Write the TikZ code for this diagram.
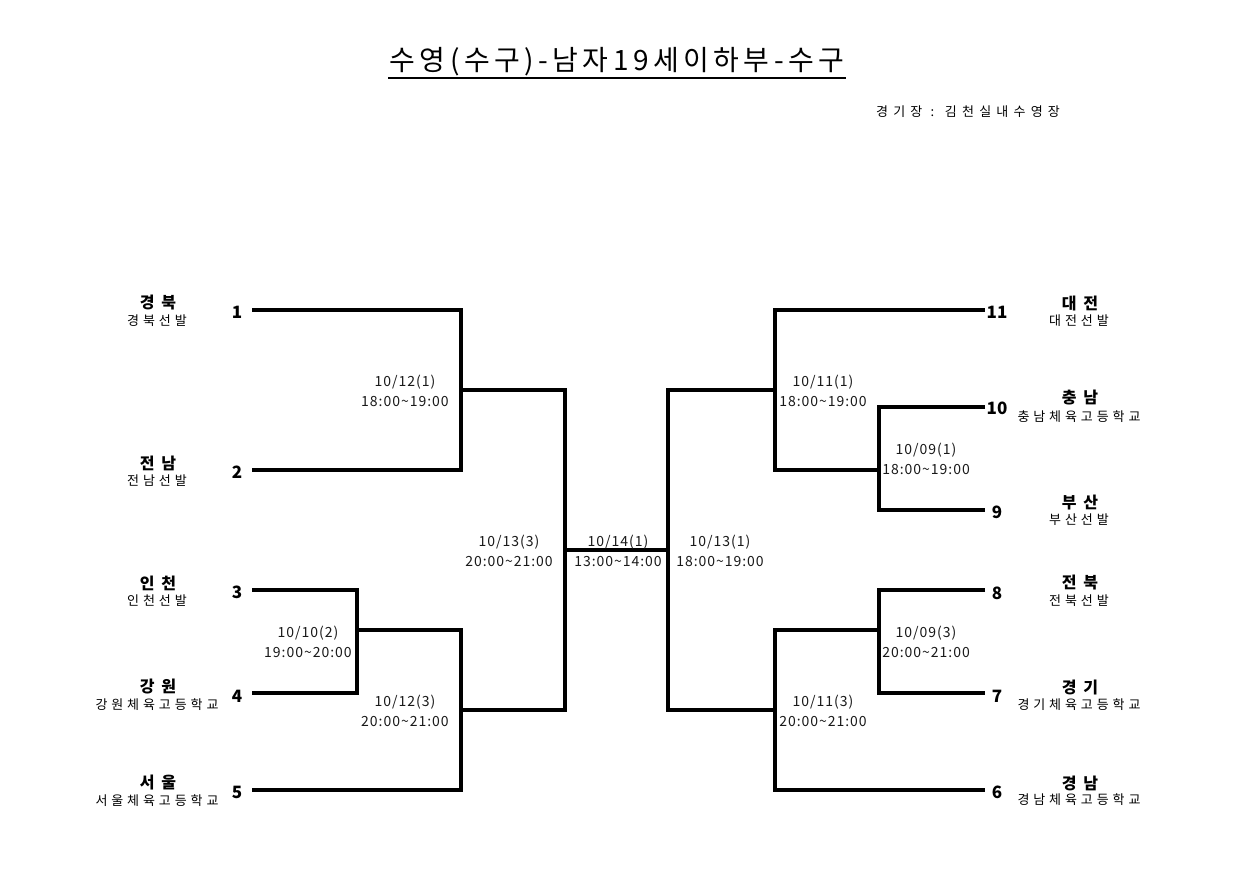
\documentclass[tikz,border=0pt]{standalone}
\usepackage{fontspec}
\setmainfont{Noto Sans CJK KR}
\newfontfamily\titlefont[LetterSpace=16]{Noto Sans CJK KR}
\newfontfamily\datefont[LetterSpace=7]{Noto Sans CJK KR}
\newfontfamily\teamfont[LetterSpace=42]{Noto Sans CJK KR}
\newfontfamily\subfont[LetterSpace=30]{Noto Sans CJK KR}
\newfontfamily\venuefont[LetterSpace=40]{Noto Sans CJK KR}
\begin{document}
\begin{tikzpicture}[x=1pt,y=-1pt,
  bline/.style={line width=4.8pt,line join=miter},
  num/.style={inner sep=0pt,font=\fontsize{17}{20}\selectfont\bfseries},
  team/.style={inner sep=0pt,font=\teamfont\fontsize{16}{18}\selectfont\bfseries},
  sub/.style={inner sep=0pt,font=\subfont\fontsize{13}{14}\selectfont},
  date/.style={inner sep=0pt,align=center,font=\datefont\fontsize{14}{20}\selectfont,color=black!90}]
\useasboundingbox[fill=white] (0,0) rectangle (1260,878);

% title
\node[inner sep=0pt,font=\titlefont\fontsize{28}{32}\selectfont] (title) at (617,62) {수영(수구)-남자19세이하부-수구};
\coordinate (ulA) at (388,78);
\coordinate (ulB) at (846,78);
\draw[line width=2pt] (ulA) -- (ulB);
\node[inner sep=0pt,font=\venuefont\fontsize{13}{14}\selectfont] (venue) at (968,112) {경기장 : 김천실내수영장};

% end points
\coordinate (p1) at (252,310);
\coordinate (p2) at (252,470);
\coordinate (p3) at (252,590);
\coordinate (p4) at (252,693);
\coordinate (p5) at (252,790);
\coordinate (p11) at (985,310);
\coordinate (p10) at (985,407);
\coordinate (p9) at (985,510);
\coordinate (p8) at (985,590);
\coordinate (p7) at (985,693);
\coordinate (p6) at (985,790);
% junctions
\coordinate (m1) at (461,390);
\coordinate (m2) at (357,630);
\coordinate (m3) at (461,710);
\coordinate (m4) at (565,550);
\coordinate (m5) at (668,550);
\coordinate (m6) at (879,470);
\coordinate (m7) at (775,390);
\coordinate (m8) at (879,630);
\coordinate (m9) at (775,710);

% bracket lines
\draw[bline] (p1) -| (m1) |- (p2);
\draw[bline] (p3) -| (m2) |- (p4);
\draw[bline] (m2) -| (m3) |- (p5);
\draw[bline] (m1) -| (m4) |- (m3);
\draw[bline] (m4) -- (m5);
\draw[bline] (m7) -| (m5) |- (m9);
\draw[bline] (p10) -| (m6) |- (p9);
\draw[bline] (m6) -| (m7) |- (p11);
\draw[bline] (p8) -| (m8) |- (p7);
\draw[bline] (m8) -| (m9) |- (p6);

% numbers
\node[num] (n1) at (237,312) {1};
\node[num] (n2) at (237,472) {2};
\node[num] (n3) at (237,592) {3};
\node[num] (n4) at (237,696) {4};
\node[num] (n5) at (237,792) {5};
\node[num] (n11) at (997,312) {11};
\node[num] (n10) at (997,408) {10};
\node[num] (n9) at (997,512) {9};
\node[num] (n8) at (997,593) {8};
\node[num] (n7) at (997,696) {7};
\node[num] (n6) at (997,792) {6};

% team names
\node[team] (t1) at (158,303) {경북};
\node[sub]  (s1) at (157,321) {경북선발};
\node[team] (t2) at (158,463) {전남};
\node[sub]  (s2) at (157,481) {전남선발};
\node[team] (t3) at (158,583) {인천};
\node[sub]  (s3) at (157,601) {인천선발};
\node[team] (t4) at (158,687) {강원};
\node[sub]  (s4) at (157,705) {강원체육고등학교};
\node[team] (t5) at (158,783) {서울};
\node[sub]  (s5) at (157,801) {서울체육고등학교};
\node[team] (t11) at (1080,303) {대전};
\node[sub]  (s11) at (1079,321) {대전선발};
\node[team] (t10) at (1080,398) {충남};
\node[sub]  (s10) at (1079,417) {충남체육고등학교};
\node[team] (t9) at (1080,503) {부산};
\node[sub]  (s9) at (1079,520) {부산선발};
\node[team] (t8) at (1080,583) {전북};
\node[sub]  (s8) at (1079,601) {전북선발};
\node[team] (t7) at (1080,687) {경기};
\node[sub]  (s7) at (1079,705) {경기체육고등학교};
\node[team] (t6) at (1080,783) {경남};
\node[sub]  (s6) at (1079,800) {경남체육고등학교};

% match labels
\node[date] (d1) at (405,391) {10/12(1)\\18:00\textasciitilde19:00};
\node[date] (d2) at (308,642) {10/10(2)\\19:00\textasciitilde20:00};
\node[date] (d3) at (405,711) {10/12(3)\\20:00\textasciitilde21:00};
\node[date] (d4) at (509,551) {10/13(3)\\20:00\textasciitilde21:00};
\node[date] (d5) at (618,551) {10/14(1)\\13:00\textasciitilde14:00};
\node[date] (d6) at (720,551) {10/13(1)\\18:00\textasciitilde19:00};
\node[date] (d7) at (823,391) {10/11(1)\\18:00\textasciitilde19:00};
\node[date] (d8) at (926,459) {10/09(1)\\18:00\textasciitilde19:00};
\node[date] (d9) at (926,642) {10/09(3)\\20:00\textasciitilde21:00};
\node[date] (d10) at (823,711) {10/11(3)\\20:00\textasciitilde21:00};
\end{tikzpicture}
\end{document}
